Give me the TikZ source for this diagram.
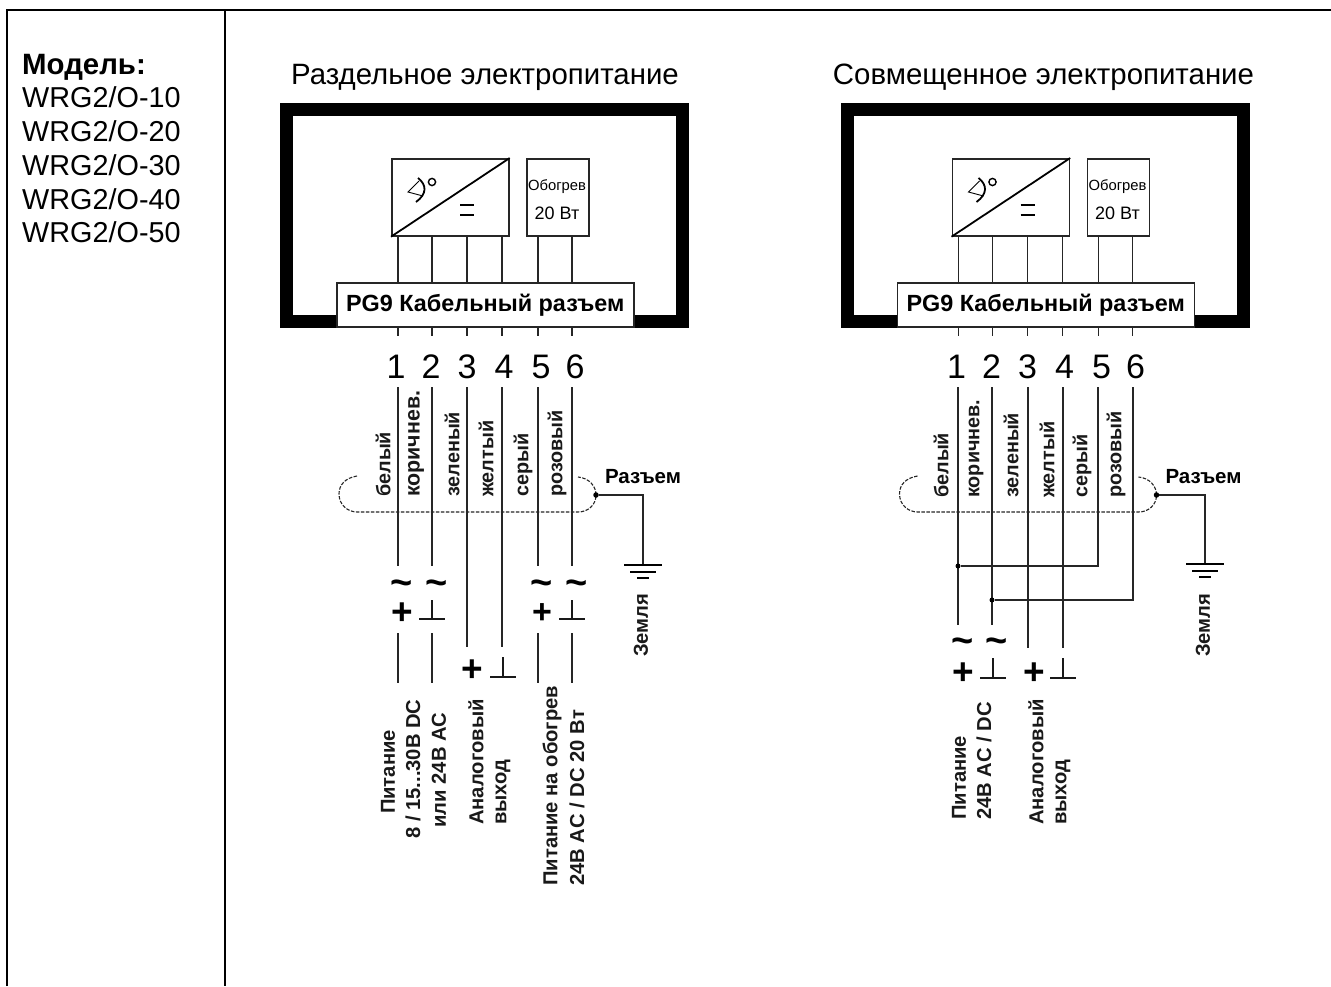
\documentclass[tikz,border=0pt]{standalone}
\usepackage{fontspec}
\setmainfont{Liberation Sans}
\tikzset{
  x=1pt,y=-1pt,
  wire/.style={line width=1.5pt,black!85},
  thinw/.style={line width=1.4pt,black!85},
  shield/.style={line width=1.1pt,dash pattern=on 3.5pt off 1.5pt,black!85},
  frameb/.style={draw=black,line width=13pt,miter limit=10},
  boxb/.style={draw=black!85,line width=1.7pt,fill=white},
  pgbox/.style={draw=black!85,line width=1.5pt,fill=white,font=\fontsize{23.4}{26}\selectfont\bfseries,inner sep=0pt},
  title/.style={font=\fontsize{29.4}{32}\selectfont,inner sep=0pt,anchor=base},
  digit/.style={font=\fontsize{34}{36}\selectfont,inner sep=0pt},
  col/.style={font=\fontsize{19.8}{22}\selectfont\bfseries,rotate=90,anchor=west,inner sep=0pt,black!90},
  bot/.style={font=\fontsize{20.2}{23}\selectfont\bfseries,rotate=90,inner sep=0pt,black!90},
  boten/.style={bot,anchor=west},
  lbl/.style={font=\fontsize{20.5}{23}\selectfont\bfseries,inner sep=0pt},
  side/.style={font=\fontsize{28.8}{32}\selectfont,inner sep=0pt,anchor=base west},
  sym/.style={inner sep=0pt,font=\fontsize{37}{38}\selectfont\bfseries},
  tild/.style={inner sep=0pt,font=\fontsize{38}{38}\selectfont\bfseries},
  dotn/.style={circle,fill=black,inner sep=0pt,minimum size=5.5pt},
  heat/.style={font=\fontsize{14.8}{17}\selectfont,inner sep=0pt},
  perpl/.style={line width=1.8pt,black!90},
}
\newcommand{\perpsym}[4]{% x, ybar, half width, top
  \draw[perpl] (#1-#3,#2) -- (#1+#3,#2);
  \draw[perpl] (#1,#4) -- (#1,#2);
}
\newcommand{\upper}[2]{%
\begin{scope}[xshift=#1]
  \draw[frameb] (286.5,109.5) rectangle (682.5,321);
  \node[boxb,minimum width=117pt,minimum height=77pt,anchor=north west] (sens#2) at (391,158) {};
  \node[boxb,minimum width=62pt,minimum height=77pt,anchor=north west] (heat#2) at (526,158) {};
  \draw[line width=1.8pt] (sens#2.south west) -- (sens#2.north east);
  \foreach \n/\x in {a/398,b/432,c/467,d/502,e/538,f/572}{
    \coordinate (t\n) at (\x,235);
    \coordinate (u\n) at (\x,336);
    \draw[thinw] (t\n) -- (u\n);
  }
  \node[pgbox,minimum width=297pt,minimum height=44pt,anchor=north west] (pg#2) at (336,282) {PG9 Кабельный разъем};
  \node[heat] at (557,187) {Обогрев};
  \node[heat,font=\fontsize{18}{20}\selectfont] at (557,213) {20 Вт};
  % sensor symbol
  \draw[line width=0.9pt] (419,181) -- (408,192) -- (423,196);
  \draw[line width=1.8pt] (418,178) .. controls (427,185) and (427,194) .. (416,202);
  \draw[line width=1.4pt] (432,182) circle (3.6pt);
  \draw[line width=1.4pt] (460,205) -- (474,205) (460,215) -- (474,215);
  \foreach \n/\x in {1/396,2/431,3/467,4/504,5/541,6/575}{
    \node[digit] at (\x,367) {\n};
  }
  \draw[shield] (357,476) .. controls (345,478) and (339,485) .. (339,494) .. controls (339,505) and (348,512) .. (357,512) -- (578,512) .. controls (588,512) and (596,505) .. (596,495) .. controls (596,486) and (589,478) .. (578,477);
  \node[dotn] (jn#2) at (596,495) {};
  \node[lbl] at (643,477) {Разъем};
\end{scope}}
\newcommand{\groundsym}[2]{%
  \draw[line width=1.8pt] (#1-19,#2) -- (#1+19,#2);
  \draw[line width=1.4pt] (#1-13,#2+7) -- (#1+13,#2+7);
  \draw[line width=1.4pt] (#1-6,#2+13) -- (#1+6,#2+13);
}
\begin{document}
\begin{tikzpicture}
\useasboundingbox (0,0) rectangle (1331,986);
\fill[white] (0,0) rectangle (1331,986);
% table
\coordinate (tl) at (7,10);
\coordinate (tr) at (1331,10);
\coordinate (ml) at (7,986);
\coordinate (vt) at (225,10);
\coordinate (vb) at (225,986);
\draw[line width=2pt] (ml) -- (tl) -- (tr);
\draw[line width=2pt] (vt) -- (vb);
\node[side,font=\fontsize{29.4}{32}\selectfont\bfseries] at (22,74) {Модель:};
\node[side] at (22,107) {WRG2/O-10};
\node[side] at (22,141) {WRG2/O-20};
\node[side] at (22,175) {WRG2/O-30};
\node[side] at (22,209) {WRG2/O-40};
\node[side] at (22,242) {WRG2/O-50};
\node[title] at (485,84) {Раздельное электропитание};
\node[title] at (1043.5,84) {Совмещенное электропитание};
\upper{0pt}{L}
\upper{560.5pt}{R}
% ---- left wires
\foreach \n/\x in {a/398,b/432,e/538,f/572}{
  \coordinate (la\n) at (\x,387);
  \coordinate (lb\n) at (\x,566);
  \draw[wire] (la\n) -- (lb\n);
  \coordinate (lc\n) at (\x,633);
  \coordinate (ld\n) at (\x,683);
  \draw[wire] (lc\n) -- (ld\n);
}
\foreach \n/\x in {c/467,d/502}{
  \coordinate (la\n) at (\x,387);
  \coordinate (lb\n) at (\x,647);
  \draw[wire] (la\n) -- (lb\n);
}
\foreach \x/\t in {383/белый,452/зеленый,486/желтый,523/серый,557/розовый}{
  \node[col] at (\x,497) {\t};
}
\node[col,font=\fontsize{21.4}{23}\selectfont\bfseries] at (416,497) {коричнев.};
\foreach \x in {402,437,542,577}{\node[tild] at (\x,588) {\symbol{"7E}};}
\node[sym] (plusa) at (402,614) {+};
\node[sym,font=\fontsize{34}{36}\selectfont\bfseries] (plusb) at (542,614) {+};
\node[sym] (plusc) at (472,671) {+};
\perpsym{432}{619}{13}{600}
\perpsym{572}{619}{13}{600}
\perpsym{503}{677}{13}{657}
\coordinate (gl) at (643,495);
\coordinate (gla) at (643,565);
\draw[wire] (jnL) -- (gl) -- (gla);
\groundsym{643}{565}
\node[bot,anchor=west] at (641,657) {Земля};
\node[bot] at (388,772) {Питание};
\node[bot] at (413,769) {8 / 15...30В DC};
\node[bot] at (439,770) {или 24В AC};
\node[boten] at (476,825) {Аналоговый};
\node[boten] at (503,825) {выход};
\node[boten] at (552,886) {Питание на обогрев};
\node[boten] at (577,886) {24В AC / DC 20 Вт};
% ---- right wires
\foreach \n/\x in {a/958,b/992}{
  \coordinate (ra\n) at (\x,387);
  \coordinate (rb\n) at (\x,625);
  \draw[wire] (ra\n) -- (rb\n);
}
\foreach \n/\x in {c/1028,d/1063}{
  \coordinate (ra\n) at (\x,387);
  \coordinate (rb\n) at (\x,648);
  \draw[wire] (ra\n) -- (rb\n);
}
\coordinate (rae) at (1098,387);
\coordinate (rbe) at (1098,566);
\coordinate (raf) at (1133,387);
\coordinate (rbf) at (1133,600);
\node[dotn,minimum size=5pt] (dl) at (958,566) {};
\node[dotn,minimum size=5pt] (dr) at (992,600) {};
\draw[wire] (rae) -- (rbe) -- (dl);
\draw[wire] (raf) -- (rbf) -- (dr);
\foreach \x/\t in {941/белый,976/коричнев.,1011/зеленый,1047/желтый,1082/серый,1116/розовый}{
  \node[col] at (\x,498) {\t};
}
\foreach \x in {963,997}{\node[tild] at (\x,646) {\symbol{"7E}};}
\node[sym] (plusd) at (963,674) {+};
\node[sym] (pluse) at (1034,674) {+};
\perpsym{993}{678}{13}{658}
\perpsym{1063}{678}{13}{658}
\coordinate (gr) at (1205,495);
\coordinate (gra) at (1205,564);
\draw[wire] (jnR) -- (gr) -- (gra);
\groundsym{1205}{564}
\node[bot,anchor=west] at (1203,657) {Земля};
\node[boten] at (959,820) {Питание};
\node[boten] at (984,820) {24В AC / DC};
\node[boten] at (1036,825) {Аналоговый};
\node[boten] at (1063,825) {выход};
\end{tikzpicture}
\end{document}
